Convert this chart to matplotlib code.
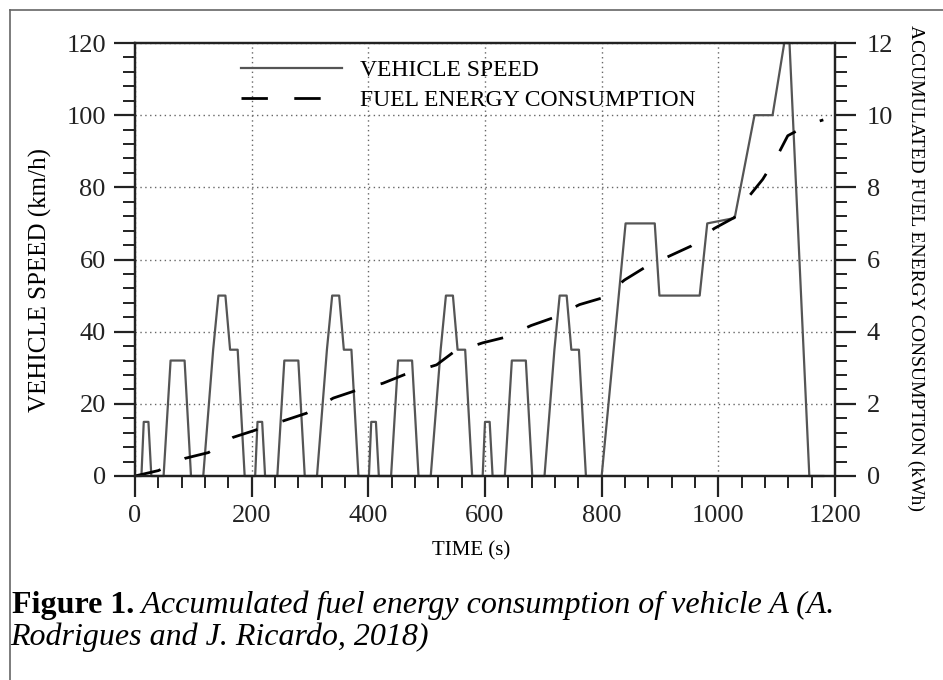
import matplotlib
matplotlib.use('Agg')
import matplotlib.pyplot as plt
from matplotlib.lines import Line2D
from matplotlib.ticker import MultipleLocator

plt.rcParams['font.family'] = ['Liberation Serif', 'DejaVu Serif']
plt.rcParams['lines.scale_dashes'] = False

# vehicle speed (NEDC-like cycle)
speed_t = [0, 11, 15, 23, 28, 49, 61, 85, 96, 117, 134, 143, 155, 163, 176, 188,
           195, 206, 210, 218, 223, 244, 256, 280, 291, 312, 329, 338, 350, 358, 371, 383,
           390, 401, 405, 413, 418, 439, 451, 475, 486, 507, 524, 533, 545, 553, 566, 578,
           585, 596, 600, 608, 613, 634, 646, 670, 681, 702, 719, 728, 740, 748, 761, 773,
           780, 800, 841, 891, 899, 968, 981, 1028, 1062, 1093, 1113, 1122, 1156, 1180]
speed_v = [0, 0, 15, 15, 0, 0, 32, 32, 0, 0, 35, 50, 50, 35, 35, 0,
           0, 0, 15, 15, 0, 0, 32, 32, 0, 0, 35, 50, 50, 35, 35, 0,
           0, 0, 15, 15, 0, 0, 32, 32, 0, 0, 35, 50, 50, 35, 35, 0,
           0, 0, 15, 15, 0, 0, 32, 32, 0, 0, 35, 50, 50, 35, 35, 0,
           0, 0, 70, 70, 50, 50, 70, 71.5, 100, 100, 120, 120, 0, 0]

# accumulated fuel energy (kWh)
energy_t = [0, 40, 86, 126, 168, 208, 251, 294, 340, 377, 425, 462, 517, 545, 596, 636,
            679, 716, 762, 802, 839, 873, 910, 953, 993, 1027, 1053, 1076, 1101, 1119, 1156, 1180]
energy_v = [0, 0.15, 0.49, 0.65, 1.07, 1.28, 1.51, 1.74, 2.16, 2.36, 2.57, 2.81, 3.08, 3.42, 3.69, 3.85,
            4.17, 4.38, 4.75, 4.94, 5.43, 5.77, 6.05, 6.37, 6.86, 7.16, 7.76, 8.22, 8.87, 9.43, 9.75, 9.87]

x_ticks = [0, 200, 400, 600, 800, 1000, 1200]
speed_ticks = [0, 20, 40, 60, 80, 100, 120]
energy_ticks = [0, 2, 4, 6, 8, 10, 12]

W, H = 943, 680
fig = plt.figure(figsize=(W / 100, H / 100), dpi=100)
ax = fig.add_axes([135 / W, 1 - 476 / H, 700 / W, 433 / H])
ax2 = ax.twinx()

l1, = ax.plot(speed_t, speed_v, color='#555555', lw=1.6, label='VEHICLE SPEED', clip_on=False)
l2, = ax2.plot(energy_t, energy_v, color='black', lw=2.0, dashes=(19, 19),
               label='FUEL ENERGY CONSUMPTION')

ax.set_xlim(0, 1200)
ax.set_ylim(0, 120)
ax2.set_ylim(0, 12)
ax.set_xticks(x_ticks)
ax.set_yticks(speed_ticks)
ax2.set_yticks(energy_ticks)
ax.xaxis.set_minor_locator(MultipleLocator(40))
ax.yaxis.set_minor_locator(MultipleLocator(4))
ax2.yaxis.set_minor_locator(MultipleLocator(0.4))

ax.grid(True, which='major', color='#666666', lw=1.0, linestyle=(0, (1, 2.5)))

for a in (ax, ax2):
    for s in a.spines.values():
        s.set_linewidth(1.6)
        s.set_color('#222222')
ax.tick_params(which='major', direction='out', length=15, width=1.6, labelsize=19, pad=6, colors='#222222')
ax.tick_params(which='minor', direction='out', length=8.5, width=1.4, colors='#222222')
ax2.tick_params(which='major', direction='out', length=15, width=1.6, labelsize=19, pad=8, colors='#222222')
ax2.tick_params(which='minor', direction='out', length=8.5, width=1.4, colors='#222222')

ax.set_xlabel('TIME (s)', fontsize=15)
ax.xaxis.set_label_coords(0.48, -0.15)
ax.set_ylabel('VEHICLE SPEED (km/h)', fontsize=18, va='center')
ax.yaxis.set_label_coords(-0.135, 0.453)
ax2.set_ylabel('ACCUMULATED FUEL ENERGY CONSUMPTION (kWh)', fontsize=14, rotation=-90, va='center')
ax2.yaxis.set_label_coords(1.115, 0.48)

ax2.legend(handles=[l1, l2], loc='upper left', bbox_to_anchor=(0.151, 0.962), frameon=False,
           fontsize=17, borderpad=0, borderaxespad=0, handlelength=4.3, handletextpad=0.75,
           labelspacing=0.38)

# outer border of the figure box (left and top only)
fig.add_artist(Line2D([9.5 / W, 9.5 / W], [0, 1 - 9.5 / H], transform=fig.transFigure, color='#666666', lw=1.2))
fig.add_artist(Line2D([9.5 / W, 1], [1 - 9.5 / H, 1 - 9.5 / H], transform=fig.transFigure, color='#666666', lw=1.2))

t1 = fig.text(12 / W, 1 - 613 / H, 'Figure 1.', fontsize=23, fontweight='bold', va='baseline')
ax.annotate(' Accumulated fuel energy consumption of vehicle A (A.', xy=(1, 0), xycoords=t1,
            fontsize=23, style='italic', va='bottom', annotation_clip=False)
fig.text(10 / W, 1 - 645 / H, 'Rodrigues and J. Ricardo, 2018)', fontsize=23, style='italic', va='baseline')

fig.savefig('out.png', dpi=100)
